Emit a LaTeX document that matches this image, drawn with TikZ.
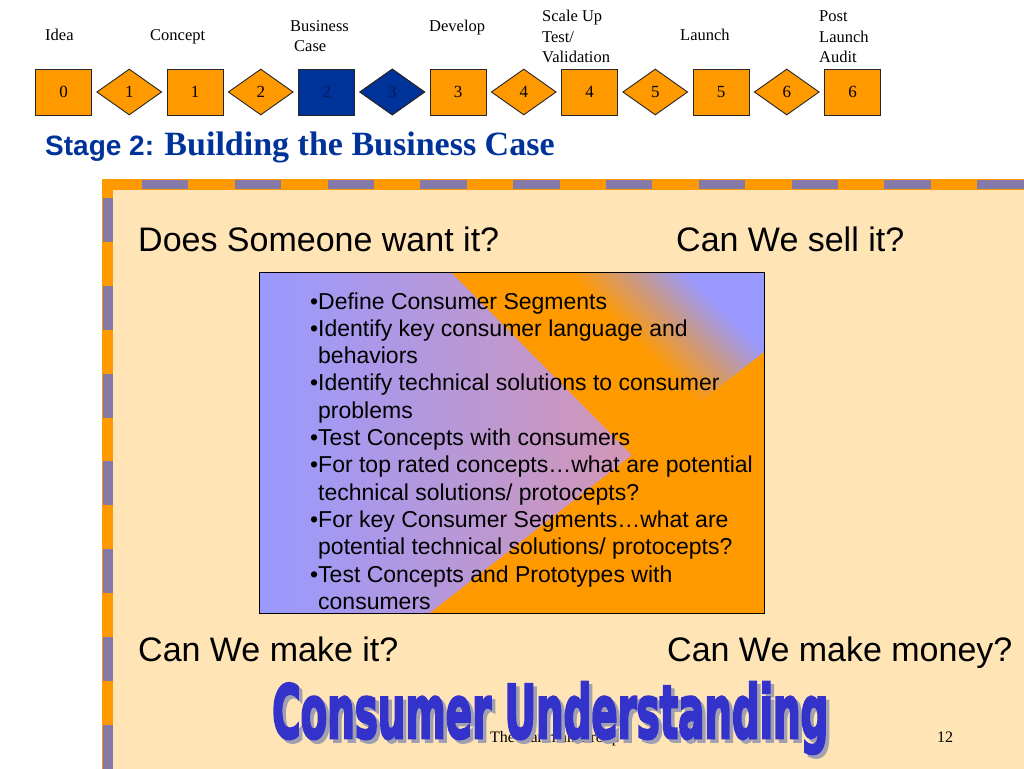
\documentclass[tikz,border=0pt]{standalone}
\usepackage{fontspec}
\setmainfont{Liberation Serif}
\setsansfont{Liberation Sans}
\newfontfamily\impfont{DejaVu Sans}[BoldFeatures={FakeBold=4}]
\usetikzlibrary{shapes.geometric}
\definecolor{stg}{HTML}{FF9900}
\definecolor{stgblue}{HTML}{003399}
\definecolor{stgdark}{HTML}{0A1A5A}
\definecolor{peach}{HTML}{FFE4B5}
\definecolor{dashp}{HTML}{8479A8}
\definecolor{tblue}{HTML}{003399}
\definecolor{lav}{HTML}{9999FF}
\definecolor{pinkish}{HTML}{E8969A}
\definecolor{cublue}{HTML}{3333CC}
\definecolor{shgray}{HTML}{A0A0B0}
\tikzset{
  sq/.style={draw=black!85, line width=0.9pt, fill=stg, minimum width=56pt, minimum height=46pt, inner sep=0pt, font=\rmfamily\fontsize{17}{17}\selectfont},
  dia/.style={diamond, draw=black!85, line width=0.9pt, fill=stg, minimum width=65pt, minimum height=46pt, inner sep=0pt, font=\rmfamily\fontsize{17}{17}\selectfont},
  hot/.style={fill=stgblue, text=stgdark},
  lbl/.style={anchor=base west, inner sep=0pt, font=\rmfamily\fontsize{16.5}{20}\selectfont},
  qtext/.style={anchor=base west, inner sep=0pt, font=\sffamily\fontsize{34}{40}\selectfont},
  btext/.style={anchor=base west, inner sep=0pt, font=\sffamily\fontsize{23}{27}\selectfont},
  foot/.style={anchor=base west, inner sep=0pt, font=\rmfamily\fontsize{16}{18}\selectfont},
}
\begin{document}
\begin{tikzpicture}[x=1pt,y=-1pt]
\useasboundingbox (0,0) rectangle (1024,768);
\clip (0,0) rectangle (1024,768);
\fill[white] (0,0) rectangle (1024,768);

% stage row
\foreach \i/\x in {0/63.5,1/195,2/326.5,3/458,4/589.5,5/721,6/852.5}
  \node[sq] (s\i) at (\x,92) {\i};
\foreach \i/\x in {1/129.25,2/260.75,3/392.25,4/523.75,5/655.25,6/786.75}
  \node[dia] (d\i) at (\x,92) {\i};
\node[sq,hot] (s2b) at (326.5,92) {2};
\node[dia,hot] (d3b) at (392.25,92) {3};

\node[lbl] (l0) at (45,41) {Idea};
\node[lbl] (l1) at (150,41) {Concept};
\node[lbl] (l2a) at (290,32) {Business};
\node[lbl] (l2b) at (294,52) {Case};
\node[lbl] (l3) at (429,32) {Develop};
\node[lbl] (l4a) at (542,22) {Scale Up};
\node[lbl] (l4b) at (542,42.5) {Test/};
\node[lbl] (l4c) at (542,63) {Validation};
\node[lbl] (l5) at (680,41) {Launch};
\node[lbl] (l6a) at (819,22) {Post};
\node[lbl] (l6b) at (819,42.5) {Launch};
\node[lbl] (l6c) at (819,63) {Audit};

% heading
\node[anchor=base west, inner sep=0pt, text=tblue] (head) at (45,155)
  {\sffamily\bfseries\fontsize{28}{30}\selectfont Stage 2: \rmfamily\bfseries\fontsize{34}{36}\selectfont Building the Business Case};

% panel
\fill[peach] (107.5,184.5) rectangle (1030,775);
\draw[stg, line width=11.5pt, line join=miter] (107.5,775) -- (107.5,184.5) -- (1030,184.5);
\draw[dashp, line width=9pt, dash pattern=on 46.4pt off 46.4pt] (142,184.5) -- (1030,184.5);
\draw[dashp, line width=10pt, dash pattern=on 44pt off 43.75pt] (107.5,198) -- (107.5,775);

% bullet box
\coordinate (bx1) at (259,272);
\coordinate (bx2) at (764,613);
\shade[left color=lav, right color=pinkish] (bx1) rectangle (bx2);
\fill[stg] (452,273) -- (632,455) -- (430,613) -- (764,613) -- (764,273) -- cycle;
\begin{scope}
  \clip (452,273) -- (632,455) -- (764,352) -- (764,273) -- cycle;
  \begin{scope}[transform canvas={rotate around={45:(608,364)}}]
    \fill[lav] (727,64) rectangle (950,664);
    \shade[left color=stg, middle color=pinkish, right color=lav] (643,64) rectangle (728,664);
  \end{scope}
\end{scope}
\draw[black, line width=1pt] (bx1) rectangle (bx2);

\foreach \t [count=\i] in {
  {\llap{•}Define Consumer Segments},
  {\llap{•}Identify key consumer language and},
  {behaviors},
  {\llap{•}Identify technical solutions to consumer},
  {problems},
  {\llap{•}Test Concepts with consumers},
  {\llap{•}For top rated concepts…what are potential},
  {technical solutions/ protocepts?},
  {\llap{•}For key Consumer Segments…what are},
  {potential technical solutions/ protocepts?},
  {\llap{•}Test Concepts and Prototypes with},
  {consumers}}
  \node[btext] (b\i) at (318,{309+27.3*(\i-1)}) {\t};

% questions
\node[qtext] (q1) at (138,251) {Does Someone want it?};
\node[qtext] (q2) at (676,251) {Can We sell it?};
\node[qtext] (q3) at (138,661) {Can We make it?};
\node[qtext] (q4) at (667,661) {Can We make money?};

% footer
\node[foot] (footer) at (490,742) {The Hartman Group};
\node[foot] (pageno) at (937,742) {12};

% big title
\node[anchor=base west, inner sep=0pt, text=shgray] (titlesh) at (275.5,741.5)
  {\impfont\bfseries\resizebox{556pt}{56pt}{Consumer Understanding}};
\node[anchor=base west, inner sep=0pt, text=cublue] (title) at (272,738)
  {\impfont\bfseries\resizebox{556pt}{56pt}{Consumer Understanding}};
\end{tikzpicture}
\end{document}
